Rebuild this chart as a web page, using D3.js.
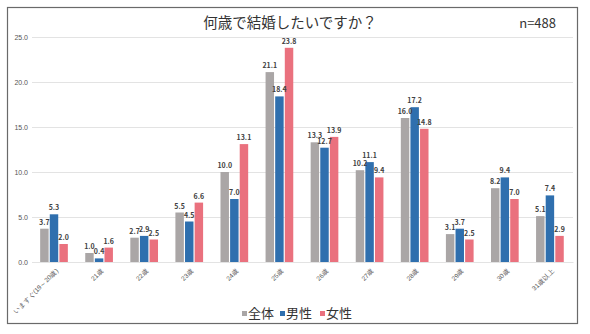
<!DOCTYPE html>
<html>
<head>
<meta charset="utf-8">
<script src="https://cdnjs.cloudflare.com/ajax/libs/d3/7.8.5/d3.min.js"></script>
<style>
  body { margin: 0; background: #fff; }
  svg { display: block; font-family: "Noto Sans CJK JP", "Noto Sans", sans-serif; }
</style>
</head>
<body>
<script>
var categories = ["いますぐ(19～20歳)", "21歳", "22歳", "23歳", "24歳", "25歳",
                  "26歳", "27歳", "28歳", "29歳", "30歳", "31歳以上"];
var seriesNames = ["全体", "男性", "女性"];
var colors = ["#aaa6a6", "#2f6fae", "#ea717e"];
var total = [3.7, 1.0, 2.7, 5.5, 10.0, 21.1, 13.3, 10.2, 16.0, 3.1, 8.2, 5.1];
var men   = [5.3, 0.4, 2.9, 4.5, 7.0, 18.4, 12.7, 11.1, 17.2, 3.7, 9.4, 7.4];
var women = [2.0, 1.6, 2.5, 6.6, 13.1, 23.8, 13.9, 9.4, 14.8, 2.5, 7.0, 2.9];
var yTicks = [0, 5, 10, 15, 20, 25];

var w = 590, h = 334;
var series = [total, men, women];

var svg = d3.select("body").append("svg")
  .attr("width", w).attr("height", h);

// outer frame
svg.append("rect")
  .attr("x", 7.5).attr("y", 7.5)
  .attr("width", 570).attr("height", 316)
  .attr("fill", "#fff").attr("stroke", "#6a6a6a").attr("stroke-width", 1.2);

svg.append("text")
  .attr("x", 290).attr("y", 28)
  .attr("text-anchor", "middle")
  .attr("font-size", 14.5).attr("fill", "#333")
  .text("何歳で結婚したいですか？");

svg.append("text")
  .attr("x", 556).attr("y", 28)
  .attr("text-anchor", "end")
  .attr("font-size", 13).attr("fill", "#333")
  .text("n=488");

var x0 = d3.scaleBand().domain(categories).range([32, 573]).paddingInner(0).paddingOuter(0);
var x1 = d3.scaleBand().domain([0, 1, 2]).range([7, 37]).padding(0.12);
var y = d3.scaleLinear().domain([0, 25]).range([262, 37]);

// gridlines + y labels
var yAxis = d3.axisLeft(y).tickValues(yTicks).tickFormat(d3.format(".1f")).tickSize(-541);
var gy = svg.append("g").attr("transform", "translate(32,0)").call(yAxis);
gy.select(".domain").remove();
gy.selectAll("line").attr("stroke", "#e3e3e3").attr("stroke-width", 1);
gy.selectAll("text").attr("x", -4).attr("font-size", 7).attr("fill", "#555");

// x axis labels, rotated
var xAxis = d3.axisBottom(x0).tickSize(0);
var gx = svg.append("g").attr("transform", "translate(0,262)").call(xAxis);
gx.select(".domain").attr("stroke", "#e3e3e3");
gx.selectAll("text")
  .attr("font-size", 6.5).attr("fill", "#555")
  .attr("text-anchor", "end")
  .attr("dy", 0)
  .attr("transform", "translate(2,7) rotate(-45)");

var groups = svg.append("g").selectAll("g")
  .data(categories).enter().append("g")
  .attr("transform", function(d) { return "translate(" + x0(d) + ",0)"; });

groups.selectAll("rect")
  .data(function(d, i) { return series.map(function(s, k) { return { k: k, v: s[i] }; }); })
  .enter().append("rect")
  .attr("x", function(d) { return x1(d.k); })
  .attr("y", function(d) { return y(d.v); })
  .attr("width", x1.bandwidth())
  .attr("height", function(d) { return 262 - y(d.v); })
  .attr("fill", function(d) { return colors[d.k]; });

groups.selectAll("text.val")
  .data(function(d, i) { return series.map(function(s, k) { return { k: k, v: s[i] }; }); })
  .enter().append("text")
  .attr("class", "val")
  .attr("x", function(d) { return x1(d.k) + x1.bandwidth() / 2; })
  .attr("y", function(d) { return y(d.v) - 4; })
  .attr("text-anchor", "middle")
  .attr("font-size", 7).attr("font-weight", "bold").attr("fill", "#404040")
  .text(function(d) { return d.v.toFixed(1); });

// legend
var legend = svg.append("g").attr("transform", "translate(242,318)");
var lx = [0, 38, 78];
seriesNames.forEach(function(name, k) {
  legend.append("rect")
    .attr("x", lx[k]).attr("y", -7).attr("width", 5).attr("height", 5)
    .attr("fill", colors[k]);
  legend.append("text")
    .attr("x", lx[k] + 6).attr("y", 0)
    .attr("font-size", 13).attr("fill", "#333")
    .text(name);
});
</script>
</body>
</html>
